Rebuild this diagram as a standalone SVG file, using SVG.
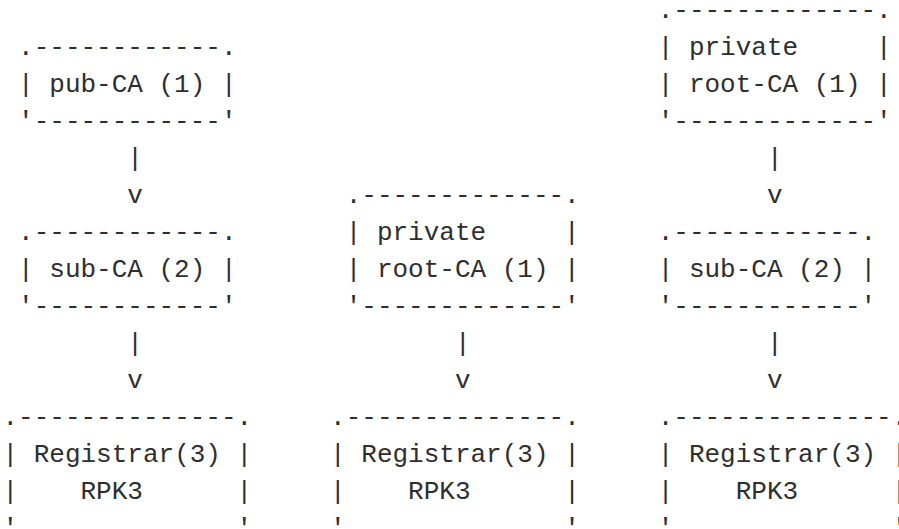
<svg xmlns="http://www.w3.org/2000/svg" width="899" height="529" viewBox="0 0 899 529" xml:space="preserve">
<style>
text { font-family: "Liberation Mono", "DejaVu Sans Mono", monospace; font-size: 26px; fill: #2e2e2e; white-space: pre; }
</style>
<rect x="0" y="0" width="899" height="529" fill="#ffffff"/>
<g id="pub-ca-1">
<text x="18.1" y="55">.------------.</text>
<text x="18.1" y="92">| pub-CA (1) |</text>
<text x="18.1" y="129">'------------'</text>
</g>
<g id="private-root-ca-right">
<text x="657.7" y="18">.-------------.</text>
<text x="657.7" y="55">| private     |</text>
<text x="657.7" y="92">| root-CA (1) |</text>
<text x="657.7" y="129">'-------------'</text>
</g>
<g id="sub-ca-left">
<text x="18.1" y="240">.------------.</text>
<text x="18.1" y="277">| sub-CA (2) |</text>
<text x="18.1" y="314">'------------'</text>
</g>
<g id="private-root-ca-middle">
<text x="345.7" y="203">.-------------.</text>
<text x="345.7" y="240">| private     |</text>
<text x="345.7" y="277">| root-CA (1) |</text>
<text x="345.7" y="314">'-------------'</text>
</g>
<g id="sub-ca-right">
<text x="657.7" y="240">.------------.</text>
<text x="657.7" y="277">| sub-CA (2) |</text>
<text x="657.7" y="314">'------------'</text>
</g>
<g id="registrar-left">
<text x="2.5" y="425">.--------------.</text>
<text x="2.5" y="462">| Registrar(3) |</text>
<text x="2.5" y="499">|    RPK3      |</text>
<text x="2.5" y="536">'              '</text>
</g>
<g id="registrar-middle">
<text x="330.1" y="425">.--------------.</text>
<text x="330.1" y="462">| Registrar(3) |</text>
<text x="330.1" y="499">|    RPK3      |</text>
<text x="330.1" y="536">'              '</text>
</g>
<g id="registrar-right">
<text x="657.7" y="425">.--------------.</text>
<text x="657.7" y="462">| Registrar(3) |</text>
<text x="657.7" y="499">|    RPK3      |</text>
<text x="657.7" y="536">'              '</text>
</g>
<g id="connectors">
<text x="127.3" y="166">|</text>
<text x="127.3" y="203">v</text>
<text x="766.9" y="166">|</text>
<text x="766.9" y="203">v</text>
<text x="127.3" y="351">|</text>
<text x="127.3" y="388">v</text>
<text x="454.9" y="351">|</text>
<text x="454.9" y="388">v</text>
<text x="766.9" y="351">|</text>
<text x="766.9" y="388">v</text>
</g>
</svg>
